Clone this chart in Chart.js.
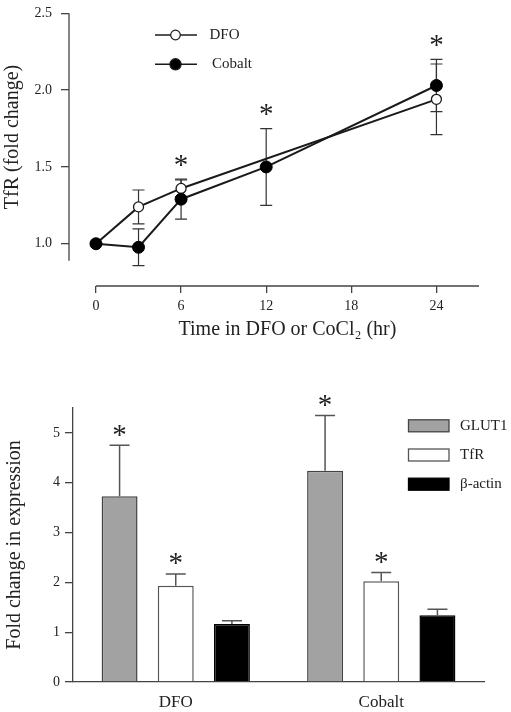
<!DOCTYPE html>
<html>
<head>
<meta charset="utf-8">
<script src="https://cdn.jsdelivr.net/npm/chart.js@4.4.1/dist/chart.umd.min.js"></script>
<style>
  body { margin: 0; background: #fff; }
  #wrap { position: relative; width: 511px; height: 712px; }
  canvas { position: absolute; left: 0; }
  #lineChart { top: 0; }
  #barChart { top: 350px; }
</style>
</head>
<body>
<div id="wrap">
  <canvas id="lineChart" width="511" height="350"></canvas>
  <canvas id="barChart" width="511" height="362"></canvas>
</div>
<script>
// top panel - TfR time course
var hourTicks = [0, 6, 12, 18, 24];
var tfrTicks = [1.0, 1.5, 2.0, 2.5];
var dfoHours = [0, 3, 6, 24];
var dfoTfr = [1.0, 1.24, 1.36, 1.94];
var dfoErr = [0, 0.11, 0.055, 0.23];
var cobaltHours = [0, 3, 6, 12, 24];
var cobaltTfr = [1.0, 0.977, 1.29, 1.5, 2.03];
var cobaltErr = [0, 0.12, 0.13, 0.25, 0.17];
var sigHours = [6, 12, 24];

// bottom panel - fold change by treatment
var treatments = ["DFO", "Cobalt"];
var glut1 = [3.73, 4.24];
var glut1Err = [1.02, 1.11];
var tfr = [1.93, 2.02];
var tfrErr = [0.24, 0.18];
var actin = [1.165, 1.34];
var actinErr = [0.065, 0.12];
var glut1Sig = [true, true];
var tfrSig = [true, true];
var actinSig = [false, false];
var foldTicks = [0, 1, 2, 3, 4, 5];

Chart.defaults.font.family = '"Liberation Serif", "Times New Roman", serif';
Chart.defaults.color = '#222';
Chart.defaults.animation = false;

var ink = '#1a1a1a';
var axisCol = '#444';

function star(ctx, x, cy) {
  ctx.save();
  ctx.font = '29px "Liberation Serif"';
  ctx.fillStyle = '#222';
  ctx.textAlign = 'center';
  ctx.textBaseline = 'alphabetic';
  var m = ctx.measureText('*');
  ctx.fillText('*', x, cy + (m.actualBoundingBoxAscent - m.actualBoundingBoxDescent) / 2);
  ctx.restore();
}

function pts(xs, ys) {
  return xs.map(function (x, i) { return { x: x, y: ys[i] }; });
}

// error bars (both ways) under the markers
var lineErrors = {
  id: 'lineErrors',
  beforeDatasetsDraw: function (chart) {
    var ctx = chart.ctx, xs = chart.scales.x, ys = chart.scales.y;
    ctx.save();
    ctx.strokeStyle = '#333';
    ctx.lineWidth = 1.2;
    chart.data.datasets.forEach(function (ds) {
      ds.data.forEach(function (p, i) {
        var e = ds.errors[i];
        if (!e) return;
        var x = xs.getPixelForValue(p.x);
        var y1 = ys.getPixelForValue(p.y + e), y2 = ys.getPixelForValue(p.y - e);
        ctx.beginPath();
        ctx.moveTo(x, y1); ctx.lineTo(x, y2);
        ctx.moveTo(x - 6, y1); ctx.lineTo(x + 6, y1);
        ctx.moveTo(x - 6, y2); ctx.lineTo(x + 6, y2);
        ctx.stroke();
      });
    });
    ctx.restore();
  },
  afterDraw: function (chart) {
    var ctx = chart.ctx, xs = chart.scales.x, ys = chart.scales.y, a = chart.chartArea;
    var yTop = ys.getPixelForValue(2.5), yBot = ys.getPixelForValue(0.89);
    var xL = xs.getPixelForValue(0), xR = xs.getPixelForValue(27);
    ctx.save();
    // detached axes
    ctx.strokeStyle = axisCol;
    ctx.lineWidth = 1.3;
    ctx.beginPath();
    ctx.moveTo(a.left, yTop);
    ctx.lineTo(a.left, yBot);
    ctx.moveTo(xL, a.bottom);
    ctx.lineTo(xR, a.bottom);
    ctx.stroke();

    // axis titles, centred on the drawn axis lines
    ctx.fillStyle = '#222';
    ctx.font = '20px "Liberation Serif"';
    ctx.textAlign = 'center';
    ctx.textBaseline = 'middle';
    ctx.fillText('Time in DFO or CoCl\u2082 (hr)', (xL + xR) / 2, 330);
    ctx.save();
    ctx.translate(13, (yTop + yBot) / 2);
    ctx.rotate(-Math.PI / 2);
    ctx.fillText('TfR (fold change)', 0, 0);
    ctx.restore();

    // significance marks
    sigHours.forEach(function (h) {
      var top = Infinity;
      chart.data.datasets.forEach(function (ds) {
        ds.data.forEach(function (p, i) {
          if (p.x === h) top = Math.min(top, ys.getPixelForValue(p.y + ds.errors[i]));
        });
      });
      star(ctx, xs.getPixelForValue(h), top - 19);
    });

    // legend
    chart.data.datasets.forEach(function (ds, i) {
      var y = 35 + i * 29.3;
      ctx.strokeStyle = ink;
      ctx.lineWidth = 1.5;
      ctx.beginPath();
      ctx.moveTo(155, y); ctx.lineTo(197, y);
      ctx.stroke();
      ctx.beginPath();
      ctx.arc(175.5, y, i === 0 ? 4.8 : 5.6, 0, Math.PI * 2);
      ctx.fillStyle = ds.pointBackgroundColor;
      ctx.fill();
      ctx.lineWidth = 1.2;
      ctx.stroke();
      ctx.fillStyle = '#222';
      ctx.font = '15px "Liberation Serif"';
      ctx.textAlign = 'left';
      ctx.textBaseline = 'middle';
      ctx.fillText(ds.label, i === 0 ? 209.5 : 212, y);
    });
    ctx.restore();
  }
};

new Chart(document.getElementById('lineChart'), {
  type: 'scatter',
  data: {
    datasets: [
      {
        label: 'DFO',
        data: pts(dfoHours, dfoTfr),
        errors: dfoErr,
        order: 1,
        showLine: true,
        borderColor: ink,
        borderWidth: 2,
        pointRadius: 5,
        pointBackgroundColor: '#fff',
        pointBorderColor: ink,
        pointBorderWidth: 1.3
      },
      {
        label: 'Cobalt',
        data: pts(cobaltHours, cobaltTfr),
        errors: cobaltErr,
        order: 0,
        showLine: true,
        borderColor: ink,
        borderWidth: 2,
        pointRadius: 6,
        pointBackgroundColor: '#000',
        pointBorderColor: '#000',
        pointBorderWidth: 1
      }
    ]
  },
  options: {
    responsive: false,
    layout: { padding: { top: 13.3, right: 32, left: 0, bottom: 0 } },
    plugins: { legend: { display: false }, tooltip: { enabled: false } },
    scales: {
      x: {
        type: 'linear',
        min: -1.9,
        max: 27,
        afterBuildTicks: function (s) { s.ticks = hourTicks.map(function (v) { return { value: v }; }); },
        afterFit: function (s) { s.height = 64; },
        border: { display: false },
        grid: { drawOnChartArea: false, tickLength: 7, color: axisCol, lineWidth: 1.3 },
        ticks: { padding: 5, font: { size: 14 } }
      },
      y: {
        min: 0.725,
        max: 2.5,
        afterBuildTicks: function (s) { s.ticks = tfrTicks.map(function (v) { return { value: v }; }); },
        afterFit: function (s) { s.width = 69; s.paddingTop = 8; s.paddingBottom = 8; },
        border: { display: false },
        grid: { drawOnChartArea: false, tickLength: 8, color: axisCol, lineWidth: 1.3 },
        ticks: { padding: 9, font: { size: 14 }, callback: function (v) { return v.toFixed(1); } }
      }
    }
  },
  plugins: [lineErrors]
});

// upward error bars, stars and legend for the bar panel
var barExtras = {
  id: 'barExtras',
  afterDatasetsDraw: function (chart) {
    var ctx = chart.ctx;
    ctx.save();
    chart.data.datasets.forEach(function (ds, d) {
      var meta = chart.getDatasetMeta(d);
      var ys = chart.scales.y;
      meta.data.forEach(function (bar, i) {
        var topY = ys.getPixelForValue(ds.data[i] + ds.errors[i]);
        ctx.strokeStyle = '#555';
        ctx.lineWidth = 1.5;
        ctx.beginPath();
        ctx.moveTo(bar.x, bar.y); ctx.lineTo(bar.x, topY);
        ctx.moveTo(bar.x - 10, topY); ctx.lineTo(bar.x + 10, topY);
        ctx.stroke();
        if (ds.sig[i]) star(ctx, bar.x, topY - 15);
      });
    });

    // legend
    chart.data.datasets.forEach(function (ds, i) {
      var y = 75.8 + i * 29.2;
      ctx.fillStyle = ds.backgroundColor;
      ctx.fillRect(408.5, y - 6, 40.5, 12);
      ctx.strokeStyle = ds.borderColor;
      ctx.lineWidth = 1.3;
      ctx.strokeRect(408.5, y - 6, 40.5, 12);
      ctx.fillStyle = '#222';
      ctx.font = '15px "Liberation Serif"';
      ctx.textAlign = 'left';
      ctx.textBaseline = 'middle';
      ctx.fillText(ds.label, 460, y);
    });
    ctx.restore();
  }
};

new Chart(document.getElementById('barChart'), {
  type: 'bar',
  data: {
    labels: treatments,
    datasets: [
      { label: 'GLUT1', data: glut1, errors: glut1Err, sig: glut1Sig, backgroundColor: '#a2a2a2', borderColor: '#444', borderWidth: 1.5 },
      { label: 'TfR', data: tfr, errors: tfrErr, sig: tfrSig, backgroundColor: '#ffffff', borderColor: '#555', borderWidth: 1.5 },
      { label: '\u03b2-actin', data: actin, errors: actinErr, sig: actinSig, backgroundColor: '#000000', borderColor: '#000', borderWidth: 1.5 }
    ]
  },
  options: {
    responsive: false,
    categoryPercentage: 0.82,
    barPercentage: 0.64,
    layout: { padding: { top: 58, right: 27, left: 0, bottom: 0 } },
    plugins: { legend: { display: false }, tooltip: { enabled: false } },
    scales: {
      x: {
        afterFit: function (s) { s.height = 30; },
        border: { display: true, color: axisCol, width: 1.3 },
        grid: { display: false },
        ticks: { padding: 2, font: { size: 17 } }
      },
      y: {
        min: 0,
        max: 5.5,
        afterBuildTicks: function (s) { s.ticks = foldTicks.map(function (v) { return { value: v }; }); },
        afterFit: function (s) { s.width = 73; },
        border: { display: true, color: axisCol, width: 1.3 },
        grid: { drawOnChartArea: false, tickLength: 8, color: axisCol, lineWidth: 1.3 },
        ticks: { padding: 5, font: { size: 14 } },
        title: { display: true, text: 'Fold change in expression', font: { size: 20 }, padding: { top: 3, bottom: 0 } }
      }
    }
  },
  plugins: [barExtras]
});
</script>
</body>
</html>
